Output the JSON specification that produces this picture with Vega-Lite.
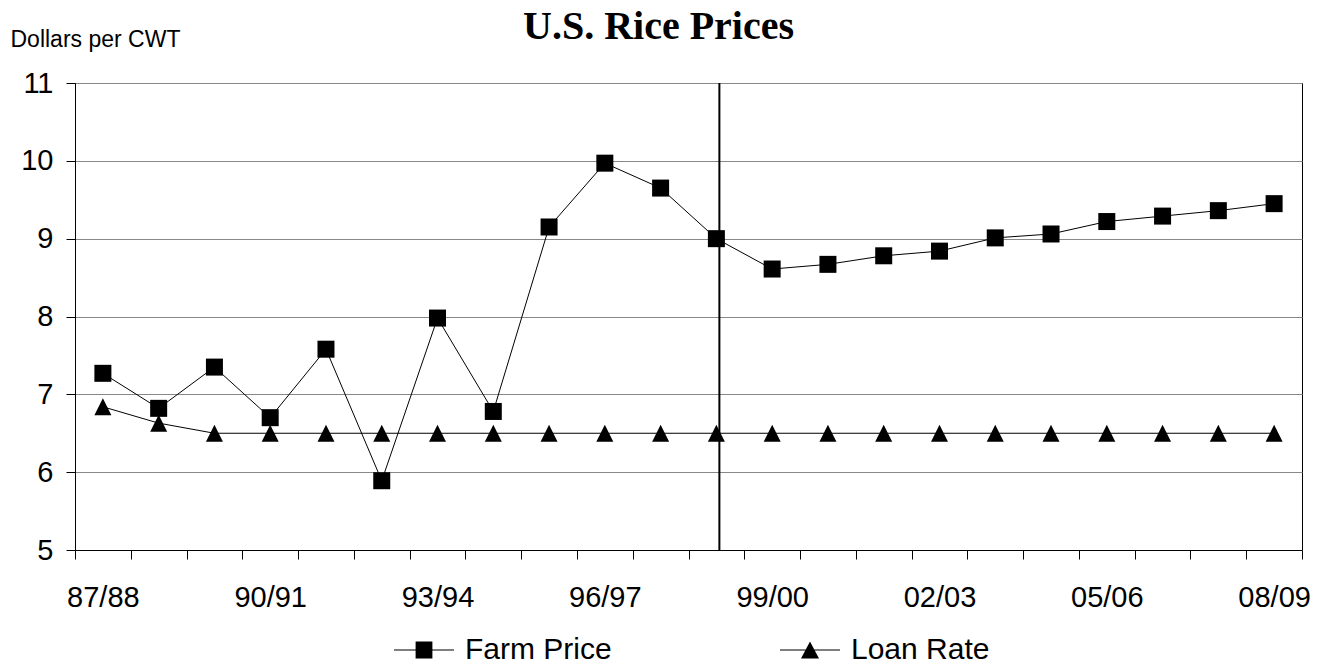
{
  "$schema": "https://vega.github.io/schema/vega-lite/v6.json",
  "autosize": "none",
  "width": 1227,
  "height": 467,
  "padding": {"left": 75, "top": 83, "right": 24, "bottom": 118},
  "background": "white",
  "config": {
    "view": {"stroke": "black", "strokeWidth": 1},
    "font": "Liberation Sans"
  },
  "title": {
    "text": "U.S. Rice Prices",
    "font": "Liberation Serif",
    "fontSize": 40,
    "fontWeight": "bold",
    "color": "black",
    "anchor": "middle",
    "baseline": "alphabetic",
    "offset": 0,
    "dx": -30,
    "dy": 51
  },
  "datasets": {
    "prices": [
      {"year": "87/88", "series": "Farm Price", "price": 7.27},
      {"year": "88/89", "series": "Farm Price", "price": 6.82},
      {"year": "89/90", "series": "Farm Price", "price": 7.35},
      {"year": "90/91", "series": "Farm Price", "price": 6.70},
      {"year": "91/92", "series": "Farm Price", "price": 7.58},
      {"year": "92/93", "series": "Farm Price", "price": 5.89},
      {"year": "93/94", "series": "Farm Price", "price": 7.98},
      {"year": "94/95", "series": "Farm Price", "price": 6.78},
      {"year": "95/96", "series": "Farm Price", "price": 9.15},
      {"year": "96/97", "series": "Farm Price", "price": 9.97},
      {"year": "97/98", "series": "Farm Price", "price": 9.65},
      {"year": "98/99", "series": "Farm Price", "price": 9.00},
      {"year": "99/00", "series": "Farm Price", "price": 8.61},
      {"year": "00/01", "series": "Farm Price", "price": 8.67},
      {"year": "01/02", "series": "Farm Price", "price": 8.78},
      {"year": "02/03", "series": "Farm Price", "price": 8.84},
      {"year": "03/04", "series": "Farm Price", "price": 9.01},
      {"year": "04/05", "series": "Farm Price", "price": 9.06},
      {"year": "05/06", "series": "Farm Price", "price": 9.22},
      {"year": "06/07", "series": "Farm Price", "price": 9.29},
      {"year": "07/08", "series": "Farm Price", "price": 9.36},
      {"year": "08/09", "series": "Farm Price", "price": 9.45},
      {"year": "87/88", "series": "Loan Rate", "price": 6.84},
      {"year": "88/89", "series": "Loan Rate", "price": 6.63},
      {"year": "89/90", "series": "Loan Rate", "price": 6.50},
      {"year": "90/91", "series": "Loan Rate", "price": 6.50},
      {"year": "91/92", "series": "Loan Rate", "price": 6.50},
      {"year": "92/93", "series": "Loan Rate", "price": 6.50},
      {"year": "93/94", "series": "Loan Rate", "price": 6.50},
      {"year": "94/95", "series": "Loan Rate", "price": 6.50},
      {"year": "95/96", "series": "Loan Rate", "price": 6.50},
      {"year": "96/97", "series": "Loan Rate", "price": 6.50},
      {"year": "97/98", "series": "Loan Rate", "price": 6.50},
      {"year": "98/99", "series": "Loan Rate", "price": 6.50},
      {"year": "99/00", "series": "Loan Rate", "price": 6.50},
      {"year": "00/01", "series": "Loan Rate", "price": 6.50},
      {"year": "01/02", "series": "Loan Rate", "price": 6.50},
      {"year": "02/03", "series": "Loan Rate", "price": 6.50},
      {"year": "03/04", "series": "Loan Rate", "price": 6.50},
      {"year": "04/05", "series": "Loan Rate", "price": 6.50},
      {"year": "05/06", "series": "Loan Rate", "price": 6.50},
      {"year": "06/07", "series": "Loan Rate", "price": 6.50},
      {"year": "07/08", "series": "Loan Rate", "price": 6.50},
      {"year": "08/09", "series": "Loan Rate", "price": 6.50}
    ],
    "marker": [{"year": "98/99"}]
  },
  "encoding": {
    "x": {
      "field": "year",
      "type": "ordinal",
      "scale": {
        "domain": ["87/88","88/89","89/90","90/91","91/92","92/93","93/94","94/95","95/96","96/97","97/98","98/99","99/00","00/01","01/02","02/03","03/04","04/05","05/06","06/07","07/08","08/09"],
        "paddingInner": 0,
        "paddingOuter": 0
      },
      "axis": {
        "title": null,
        "labelExpr": "indexof(['87/88','90/91','93/94','96/97','99/00','02/03','05/06','08/09'], datum.value) >= 0 ? datum.value : ''",
        "labelAngle": 0,
        "labelOverlap": false,
        "labelFont": "Liberation Sans",
        "labelFontSize": 29,
        "labelColor": "black",
        "labelPadding": 24,
        "tickBand": "extent",
        "tickSize": 9,
        "tickColor": "black",
        "domainColor": "black",
        "grid": false
      }
    }
  },
  "layer": [
    {
      "data": {"name": "marker"},
      "mark": {"type": "rule", "color": "black", "strokeWidth": 2, "xOffset": 3}
    },
    {
      "data": {"name": "prices"},
      "mark": {"type": "line", "color": "black", "strokeWidth": 1},
      "encoding": {
        "y": {
          "field": "price", "type": "quantitative",
          "scale": {"domain": [5, 11], "nice": false, "zero": false},
          "axis": {
            "values": [5, 6, 7, 8, 9, 10, 11],
            "format": "d",
            "grid": true, "gridColor": "#888888", "gridWidth": 1,
            "domainColor": "black", "tickColor": "black", "tickSize": 9,
            "labelFont": "Liberation Sans", "labelFontSize": 29, "labelColor": "black", "labelPadding": 13,
            "title": "Dollars per CWT", "titleAngle": 0, "titleAlign": "left", "titleBaseline": "alphabetic",
            "titleX": -65, "titleY": -37, "titleFont": "Liberation Sans", "titleFontSize": 23,
            "titleFontWeight": "normal", "titleColor": "black"
          }
        },
        "detail": {"field": "series", "type": "nominal"}
      }
    },
    {
      "data": {"name": "prices"},
      "mark": {"type": "point", "filled": true, "color": "black", "opacity": 1, "size": 289},
      "encoding": {
        "y": {"field": "price", "type": "quantitative"},
        "shape": {
          "field": "series", "type": "nominal",
          "scale": {"domain": ["Farm Price", "Loan Rate"], "range": ["square", "M0,-1L1,1L-1,1Z"]},
          "legend": null
        }
      }
    },
    {
      "data": {"name": "prices"},
      "mark": {"type": "point", "filled": true, "color": "black", "opacity": 0, "size": 30},
      "encoding": {
        "y": {"field": "price", "type": "quantitative"},
        "shape": {
          "field": "series", "type": "nominal",
          "scale": {"domain": ["Farm Price", "Loan Rate"], "range": ["M-1,-0.017L1,-0.017L1,0.017L-1,0.017Z M-0.28,-0.28L0.28,-0.28L0.28,0.28L-0.28,0.28Z", "M-1,-0.017L1,-0.017L1,0.017L-1,0.017Z M0,-0.28L0.3,0.28L-0.3,0.28Z"]},
          "legend": {
            "title": null,
            "orient": "none",
            "legendX": 318,
            "legendY": 536,
            "direction": "horizontal",
            "labelFont": "Liberation Sans",
            "labelFontSize": 30,
            "labelColor": "black",
            "labelOffset": 10,
            "columnPadding": 165,
            "symbolSize": 3600,
            "symbolFillColor": "black",
            "symbolOpacity": 1
          }
        }
      }
    }
  ],
  "resolve": {"scale": {"shape": "independent"}}
}
